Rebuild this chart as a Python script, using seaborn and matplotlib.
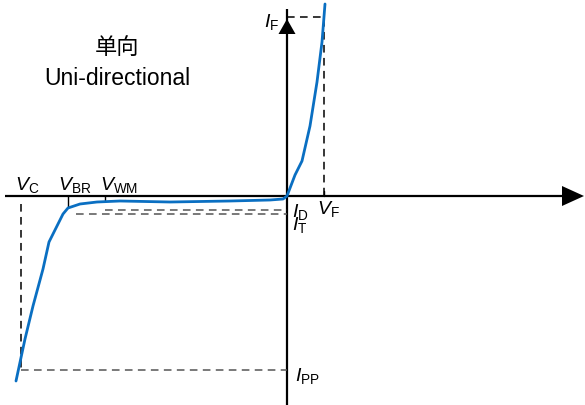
import numpy as np
import pandas as pd
import matplotlib
matplotlib.use("Agg")
import matplotlib.pyplot as plt
import seaborn as sns

# I-V curve of a uni-directional TVS diode (schematic units)
voltage = [-271, -262, -254, -244, -238, -230, -224, -219, -207, -190, -167,
           -117, -57, -17, -4, 0, 8, 15, 23, 30, 35, 38]
current = [-185, -143, -110, -73, -46, -30, -18, -12, -8, -6, -5,
           -6, -5, -4, -3, 0, 21, 35, 70, 114, 154, 192]

# characteristic levels
V_C, V_BR, V_WM, V_F = -266, -219, -182, 37
I_F, I_D, I_T, I_PP = 179, -14, -18, -174

sns.set_style("white")
plt.rcParams["font.family"] = ["Liberation Sans", "Noto Sans CJK SC", "DejaVu Sans"]
plt.rcParams["text.color"] = "black"
plt.rcParams["mathtext.fontset"] = "custom"
plt.rcParams["mathtext.rm"] = "Liberation Sans"
plt.rcParams["mathtext.it"] = "Liberation Sans:italic"

fig = plt.figure(figsize=(5.85, 4.06), dpi=100)
ax = fig.add_axes([0, 0, 1, 1])
ax.set_xlim(-287, 298)
ax.set_ylim(-209, 197)
ax.axis("off")

# axes with arrowheads
ax.plot([-282, 285], [0, 0], color="black", lw=1.6, solid_capstyle="butt")
ax.arrow(275, 0, 22, 0, head_width=20, head_length=22, length_includes_head=True,
         color="black", lw=0)
ax.plot([0, 0], [-209, 187], color="black", lw=1.6, solid_capstyle="butt")
ax.arrow(0, 162, 0, 15, head_width=17, head_length=15, length_includes_head=True,
         color="black", lw=0)

dash = dict(color="#555555", lw=1.1, ls=(0, (5, 3.5)))
ax.plot([V_C, V_C], [-8, I_PP], color="black", lw=1.1, ls=(0, (5, 3.5)))
ax.plot([V_C, 0], [I_PP, I_PP], **dash)
ax.plot([V_WM, 0], [I_D, I_D], **dash)
ax.plot([V_BR + 8, 0], [I_T, I_T], **dash)
ax.plot([0, V_F, V_F], [I_F, I_F, 0], color="black", lw=1.1, ls=(0, (5, 3.5)))

# ticks
ax.plot([V_BR, V_BR], [0, -11], color="black", lw=1.0)
ax.plot([V_WM, V_WM], [0, -5], color="black", lw=1.0)
ax.plot([V_F, V_F], [0, 5], color="black", lw=1.0)

df = pd.DataFrame({"V": voltage, "I": current})
sns.lineplot(data=df, x="V", y="I", sort=False, color="#0a6fc2", lw=2.0, ax=ax)
ax.set_xlabel("")
ax.set_ylabel("")

fs = 14
labels = [
    (-272, 7, r"$\mathit{V}_{\mathrm{C}}$"),
    (-229, 7, r"$\mathit{V}_{\mathrm{BR}}$"),
    (-187, 7, r"$\mathit{V}_{\mathrm{WM}}$"),
    (-23, 170, r"$\mathit{I}_{\mathrm{F}}$"),
    (5, -20, r"$\mathit{I}_{\mathrm{D}}$"),
    (5, -33, r"$\mathit{I}_{\mathrm{T}}$"),
    (30, -17, r"$\mathit{V}_{\mathrm{F}}$"),
    (8, -184, r"$\mathit{I}_{\mathrm{PP}}$"),
]
for x, y, s in labels:
    ax.text(x, y, s, fontsize=fs, ha="left", va="baseline", color="black")

ax.text(-170, 150, "单向", fontsize=16, ha="center", va="center", color="black",
        family=["Noto Sans CJK SC", "DejaVu Sans"])
ax.text(-170, 112, "Uni-directional", fontsize=16.5, ha="center", va="baseline",
        color="black")

fig.savefig("out.png", dpi=100)
